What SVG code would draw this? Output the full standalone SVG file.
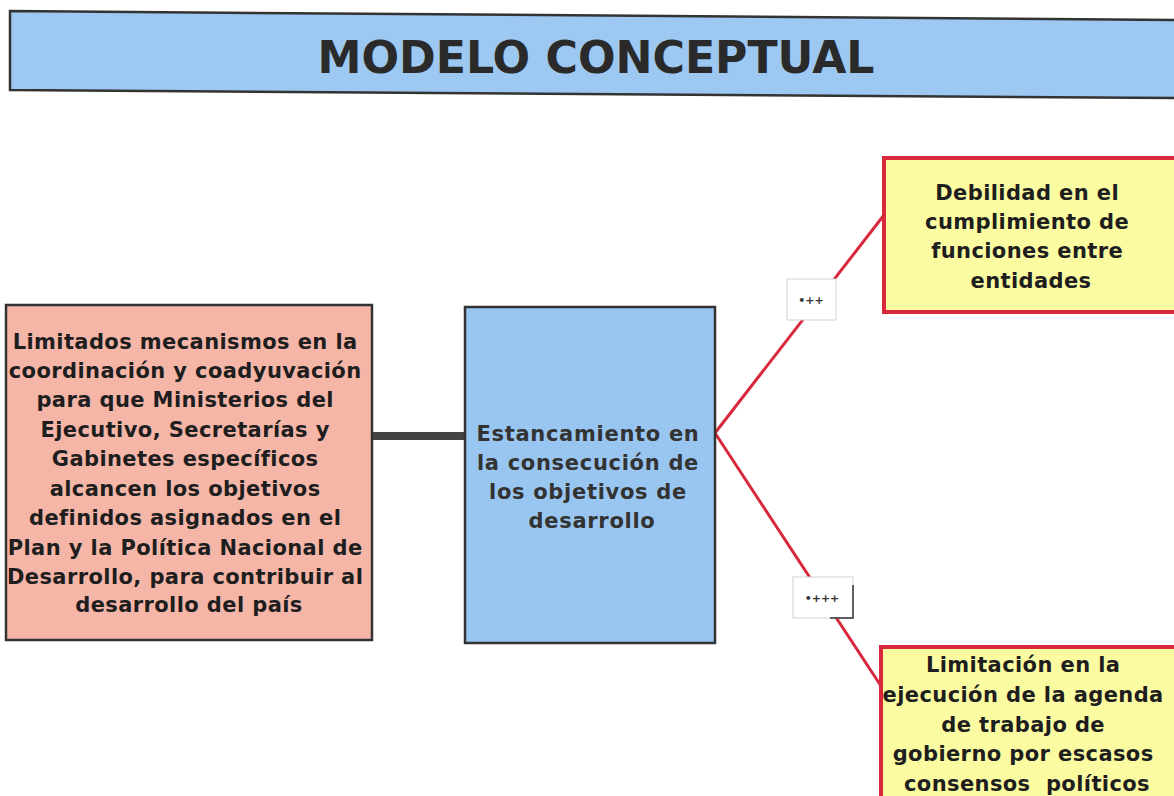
<svg xmlns="http://www.w3.org/2000/svg" width="1174" height="796" viewBox="0 0 1174 796">
<style>
.t{font-family:"DejaVu Sans","Liberation Sans",sans-serif;font-weight:bold;text-anchor:middle;fill:#1e1e1e}
.b{font-size:21px;letter-spacing:0.4px}
.title{font-size:44px;fill:#2a2a2a}
.lbl{font-family:"DejaVu Sans",sans-serif;font-size:11px;text-anchor:middle;fill:#333;font-weight:bold}
.red{stroke:#d8283c;stroke-width:3;fill:none}
</style>
<rect width="1174" height="796" fill="#ffffff"/>
<g id="title">
<polygon points="10,11 1176,20 1176,98 10,90" fill="#9dc8f2" stroke="#333" stroke-width="2.5"/>
<text class="t title" x="596" y="73" textLength="557" lengthAdjust="spacingAndGlyphs">MODELO CONCEPTUAL</text>
</g>
<g id="connectors">
<line x1="372" y1="436" x2="466" y2="436" stroke="#444" stroke-width="8"/>
<line class="red" x1="715" y1="433" x2="884" y2="215"/>
<line class="red" x1="715" y1="433" x2="881" y2="686"/>
<g id="lbl1">
<rect x="787" y="279" width="49" height="41" fill="#fff" stroke="#d4d4d4" stroke-width="1"/>
<text class="lbl" x="811" y="304">•++</text>
</g>
<g id="lbl2">
<rect x="793" y="577" width="60" height="41" fill="#fff" stroke="#d4d4d4" stroke-width="1"/>
<polyline points="853,585 853,618 830,618" fill="none" stroke="#333" stroke-width="1.5"/>
<text class="lbl" x="822" y="602">•+++</text>
</g>
</g>
<g id="node-left">
<rect x="6" y="305" width="366" height="335" fill="#f5b6a8" stroke="#333" stroke-width="2.5"/>
<text class="t b" x="189">
<tspan x="189" y="349">Limitados mecanismos en la</tspan>
<tspan x="189" y="378">coordinación y coadyuvación</tspan>
<tspan x="189" y="407">para que Ministerios del</tspan>
<tspan x="189" y="437">Ejecutivo, Secretarías y</tspan>
<tspan x="189" y="466">Gabinetes específicos</tspan>
<tspan x="189" y="496">alcancen los objetivos</tspan>
<tspan x="189" y="525">definidos asignados en el</tspan>
<tspan x="189" y="555">Plan y la Política Nacional de</tspan>
<tspan x="189" y="584">Desarrollo, para contribuir al</tspan>
<tspan x="189" y="612">desarrollo del país</tspan>
</text>
</g>
<g id="node-center">
<rect x="465" y="307" width="250" height="336" fill="#99c6f0" stroke="#333" stroke-width="2.5"/>
<text class="t b" x="590" style="fill:#333;letter-spacing:0.7px">
<tspan x="592" y="441">Estancamiento en</tspan>
<tspan x="592" y="470">la consecución de</tspan>
<tspan x="592" y="499">los objetivos de</tspan>
<tspan x="592" y="528">desarrollo</tspan>
</text>
</g>
<g id="node-top-right">
<rect x="884" y="158" width="296" height="154" fill="#fbfba2" stroke="#d8283c" stroke-width="4"/>
<text class="t b" x="1031">
<tspan x="1031" y="200">Debilidad en el</tspan>
<tspan x="1031" y="229">cumplimiento de</tspan>
<tspan x="1031" y="258">funciones entre</tspan>
<tspan x="1031" y="288">entidades</tspan>
</text>
</g>
<g id="node-bottom-right">
<rect x="881" y="647" width="300" height="160" fill="#fbfba2" stroke="#d8283c" stroke-width="4"/>
<text class="t b" x="1026">
<tspan x="1027" y="672">Limitación en la</tspan>
<tspan x="1027" y="702">ejecución de la agenda</tspan>
<tspan x="1027" y="732">de trabajo de</tspan>
<tspan x="1027" y="761">gobierno por escasos</tspan>
<tspan x="1027" y="791">consensos&#160; políticos</tspan>
</text>
</g>
</svg>
